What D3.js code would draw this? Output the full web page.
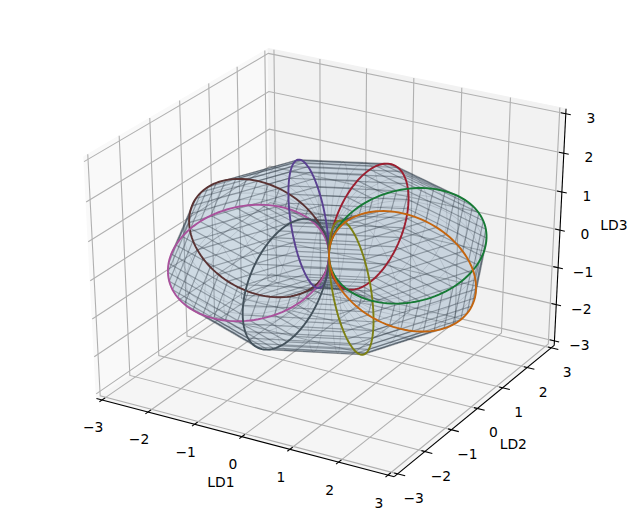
<!DOCTYPE html>
<html><head><meta charset="utf-8">
<script src="https://cdn.jsdelivr.net/npm/d3@7"></script>
<style>html,body{margin:0;padding:0;background:#fff}svg{display:block}text{font-family:"DejaVu Sans",sans-serif;font-size:13.89px;fill:#000}</style>
</head><body><svg id="c" width="641" height="524"></svg>
<script>
// ---- values ----
const ticks = [-3,-2,-1,0,1,2,3];
const axisNames = ["LD1","LD2","LD3"];
// Each ring passes through the origin: centre (LD1, LD2, LD3) and upper semi-axis (LD1, LD2, LD3)
const ringNames  = ["orange","green","red","purple","brown","pink","slate","olive"];
const ringColors = ["#c4650f","#177a35","#9c1f30","#5a4191","#5a3333","#a9529c","#44525c","#7d8014"];
const ringCentreX = [1.51, 1.06, 0.00,-1.05,-1.50,-1.06, 0.00, 1.06];
const ringCentreY = [0.00, 1.06, 1.50, 1.05, 0.00,-1.06,-1.51,-1.06];
const ringCentreZ = [0,0,0,0,0,0,0,0];
const ringUpX = [0,0,0,0,0,0,0,0];
const ringUpY = [0,0,0,0,0,0,0,0];
const ringUpZ = [1.5,1.5,1.5,1.5,1.5,1.5,1.5,1.5];
const ringSteps = 40, bandSteps = 4;
const drawOrder = [4,5,3,6,2,7,1,0];
// ---- projection ----
const L = 3.125;
const elev = 30*Math.PI/180, azim = -60*Math.PI/180, dist = 10;
const toWorld = d3.scaleLinear().domain([-3,3]).range([-0.5,0.5]);
const w = [Math.cos(elev)*Math.cos(azim), Math.cos(elev)*Math.sin(azim), Math.sin(elev)];
const un = Math.hypot(w[1],w[0]);
const u = [-w[1]/un, w[0]/un, 0];
const v = [w[1]*u[2]-w[2]*u[1], w[2]*u[0]-w[0]*u[2], w[0]*u[1]-w[1]*u[0]];
const dot = (a,b)=>a[0]*b[0]+a[1]*b[1]+a[2]*b[2];
const sx = d3.scaleLinear().domain([0,0.1]).range([329,329+330]);
const sy = d3.scaleLinear().domain([0,0.1]).range([255,255-265]);
function proj(p){ const q=p.map(toWorld), z=dot(q,w)-dist; return [sx(dot(q,u)/-z), sy(dot(q,v)/-z)]; }
const svg = d3.select("#c");
const line = d3.line();
const poly3 = pts => line(pts.map(proj));
// ---- panes ----
const panes = [
  {pts:[[-L,-L,-L],[-L,L,-L],[-L,L,L],[-L,-L,L]], c:"rgb(249,249,249)"},
  {pts:[[-L,L,-L],[L,L,-L],[L,L,L],[-L,L,L]], c:"rgb(242,242,242)"},
  {pts:[[-L,-L,-L],[L,-L,-L],[L,L,-L],[-L,L,-L]], c:"rgb(245,245,245)"}
];
svg.append("g").selectAll("path").data(panes).join("path")
  .attr("d",d=>poly3(d.pts)+"Z").attr("fill",d=>d.c).attr("stroke",d=>d.c).attr("stroke-width",1);
// ---- grid ----
const grid = svg.append("g").attr("fill","none").attr("stroke","#b0b0b0").attr("stroke-width",1.1);
ticks.forEach(t=>{
  grid.append("path").attr("d",poly3([[t,-L,-L],[t,L,-L],[t,L,L]]));
  grid.append("path").attr("d",poly3([[L,t,-L],[-L,t,-L],[-L,t,L]]));
  grid.append("path").attr("d",poly3([[-L,-L,t],[-L,L,t],[L,L,t]]));
});
// ---- axis lines and ticks ----
const ax = svg.append("g").attr("fill","none").attr("stroke","#000").attr("stroke-width",1.1);
ax.append("path").attr("d",poly3([[-L,-L,-L],[L,-L,-L]]));
ax.append("path").attr("d",poly3([[L,-L,-L],[L,L,-L]]));
ax.append("path").attr("d",poly3([[L,L,-L],[L,L,L]]));
ticks.forEach(t=>{
  ax.append("path").attr("d",poly3([[t,-L+0.1,-L],[t,-L-0.09,-L]]));
  ax.append("path").attr("d",poly3([[L-0.07,t,-L],[L+0.15,t,-L]]));
  ax.append("path").attr("d",poly3([[L-0.1,L,t],[L+0.1,L,t]]));
});
// ---- surface ----
function ringPoint(k,t){
  const c=[ringCentreX[k],ringCentreY[k],ringCentreZ[k]], up=[ringUpX[k],ringUpY[k],ringUpZ[k]];
  return c.map((a,i)=>a+a*Math.cos(t)+up[i]*Math.sin(t));
}
const n=ringNames.length;
const at=(k,f,t)=>{const a=ringPoint(k,t),c=ringPoint((k+1)%n,t);return a.map((x,i)=>x+(c[i]-x)*f);};
const faces=[], parallels=[], meridians=[];
for(let k=0;k<n;k++){
  for(let b=0;b<bandSteps;b++){
    const f0=b/bandSteps,f1=(b+1)/bandSteps;
    for(let j=0;j<ringSteps;j++){
      const t0=j/ringSteps*2*Math.PI,t1=(j+1)/ringSteps*2*Math.PI;
      faces.push([at(k,f0,t0),at(k,f0,t1),at(k,f1,t1),at(k,f1,t0)]);
    }
    if(b>0) meridians.push(d3.range(0,ringSteps+1).map(j=>at(k,f0,j/ringSteps*2*Math.PI)));
  }
}
for(let j=0;j<ringSteps;j++){
  const t=j/ringSteps*2*Math.PI;
  parallels.push(d3.range(0,n+1).map(k=>ringPoint(k%n,t)));
}
svg.append("g").selectAll("path").data(faces).join("path")
  .attr("d",d=>poly3(d)+"Z").attr("fill","#4f7fa5").attr("fill-opacity",0.13).attr("shape-rendering","crispEdges");
svg.append("g").attr("fill","none").attr("stroke","#2a3440").attr("stroke-opacity",0.16).attr("stroke-width",0.9)
  .selectAll("path").data(meridians).join("path").attr("d",poly3);
svg.append("g").attr("fill","none").attr("stroke","#2a3440").attr("stroke-opacity",0.38).attr("stroke-width",1.2)
  .selectAll("path").data(parallels).join("path").attr("d",poly3);
// ---- rings ----
const tSamples=d3.range(0,121).map(i=>i/120*2*Math.PI);
svg.append("g").attr("fill","none").attr("stroke-width",1.9).selectAll("path").data(drawOrder).join("path")
  .attr("d",k=>poly3(tSamples.map(t=>ringPoint(k,t)))).attr("stroke",k=>ringColors[k]);
// ---- labels ----
const lab=svg.append("g").attr("text-anchor","middle");
const fmt=t=>t<0?"\u2212"+(-t):""+t;
function label(p,dx,dy,s){const q=proj(p);lab.append("text").attr("x",q[0]+dx).attr("y",q[1]+dy+5).text(s);}
ticks.forEach(t=>{
  label([t,-L,-L],-9,27.5,fmt(t));
  label([L,t,-L],16,24,fmt(t));
  label([L,L,t],25,4,fmt(t));
});
label([0,-L,-L],-21,45,axisNames[0]);
label([L,0,-L],36,36,axisNames[1]);
label([L,L,0],54,-5,axisNames[2]);
</script></body></html>
